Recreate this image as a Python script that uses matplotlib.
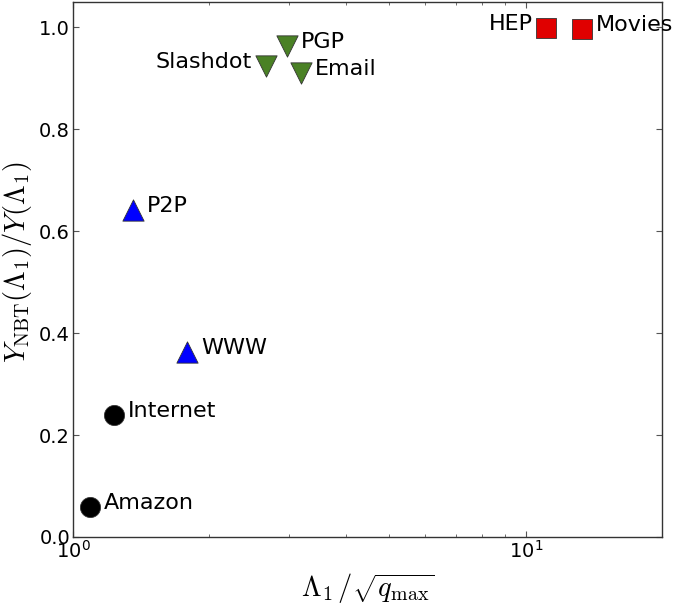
import matplotlib
matplotlib.use("Agg")
import matplotlib.pyplot as plt

names = ["Amazon", "Internet", "P2P", "WWW", "Slashdot", "PGP", "Email", "HEP", "Movies"]
x_vals = [1.09, 1.23, 1.36, 1.79, 2.67, 2.97, 3.19, 11.1, 13.3]
y_vals = [0.059, 0.239, 0.641, 0.363, 0.925, 0.964, 0.911, 0.999, 0.997]
groups = ["circle", "circle", "up", "up", "down", "down", "down", "square", "square"]
label_side = ["right", "right", "right", "right", "left", "right", "right", "left", "right"]
y_ticks = [0.0, 0.2, 0.4, 0.6, 0.8, 1.0]

style = {
    "circle": dict(marker="o", color="black", s=210),
    "up": dict(marker="^", color="#0000ff", s=235),
    "down": dict(marker="v", color="#4a8125", s=235),
    "square": dict(marker="s", color="#e00000", s=205),
}

fig = plt.figure(figsize=(6.75, 6.05), dpi=100)
ax = fig.add_axes([0.108, 0.1124, 0.873, 0.8843])
ax.set_xscale("log")

for n, x, y, g, side in zip(names, x_vals, y_vals, groups, label_side):
    st = style[g]
    ax.scatter([x], [y], marker=st["marker"], s=st["s"], facecolor=st["color"],
               edgecolor="#333333", linewidth=0.6, zorder=3, clip_on=False)
    if side == "right":
        ax.annotate(n, (x, y), xytext=(10, 3), textcoords="offset points",
                    ha="left", va="center", fontsize=16)
    else:
        ax.annotate(n, (x, y), xytext=(-10, 3), textcoords="offset points",
                    ha="right", va="center", fontsize=16)

ax.set_xlim(1, 20)
ax.set_ylim(0, 1.05)
ax.set_yticks(y_ticks)
ax.set_yticklabels([f"{t:.1f}" for t in y_ticks])
ax.tick_params(which="both", direction="in", top=True, right=True, labelsize=14, pad=2,
               color="#555555")
ax.tick_params(which="major", length=4)
ax.tick_params(which="minor", length=2)
ax.set_xlabel(r"$\Lambda_1\,/\sqrt{q_{\rm max}}$", fontsize=20.5, math_fontfamily="cm",
              labelpad=7)
ax.set_ylabel(r"$Y_{\rm NBT}(\Lambda_1)/Y(\Lambda_1)$", fontsize=20.5, math_fontfamily="cm")
ax.yaxis.set_label_coords(-0.066, 0.513)
for sp in ax.spines.values():
    sp.set_linewidth(1.0)
    sp.set_color("#333333")

fig.savefig("out.png", dpi=100)
